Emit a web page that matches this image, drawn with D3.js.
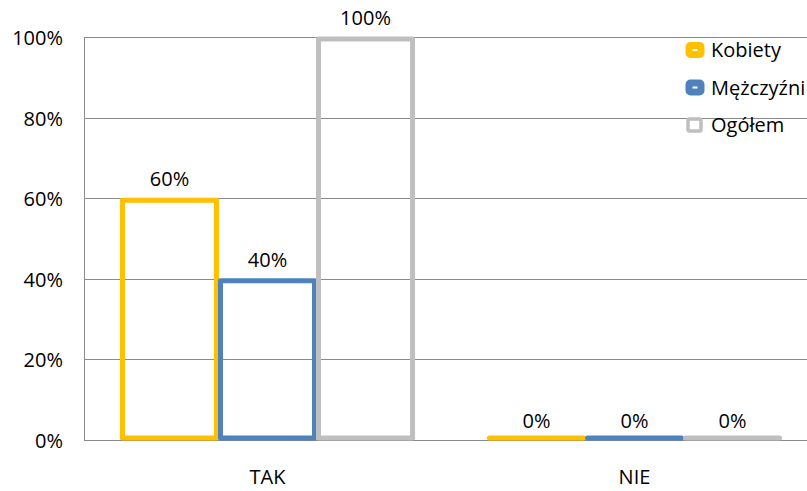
<!DOCTYPE html>
<html>
<head>
<meta charset="utf-8">
<script src="https://cdn.jsdelivr.net/npm/d3@7"></script>
<style>
  body { margin: 0; background: #fff; overflow: hidden; }
  svg text { font-family: "Open Sans", sans-serif; fill: #000; }
</style>
</head>
<body>
<div id="graph"></div>
<script>
const categories = ["TAK", "NIE"];
const seriesNames = ["Kobiety", "Mężczyźni", "Ogółem"];
const kobiety = [0.6, 0.0];
const mezczyzni = [0.4, 0.0];
const ogolem = [1.0, 0.0];
const yTicks = [0, 0.2, 0.4, 0.6, 0.8, 1.0];

const colors = ["#FFC000", "#4F81BD", "#BFBFBF"];
const seriesValues = [kobiety, mezczyzni, ogolem];

const width = 807, height = 491;
const margin = { top: 37, left: 84, bottom: 51, plotRight: 818 };

const svg = d3.select("#graph")
    .append("svg")
    .attr("width", width)
    .attr("height", height);

const x0 = d3.scaleBand()
    .domain(categories)
    .range([margin.left, margin.plotRight])
    .padding(0);

const x1 = d3.scaleBand()
    .domain(seriesNames)
    .range([0, x0.bandwidth()])
    .paddingInner(0)
    .paddingOuter(0.372);

const y = d3.scaleLinear()
    .domain([0, 1])
    .range([height - margin.bottom, margin.top]);

// gridlines
svg.append("g")
    .selectAll("line")
    .data(yTicks)
    .join("line")
    .attr("x1", margin.left)
    .attr("x2", width)
    .attr("y1", d => Math.round(y(d)) + 0.5)
    .attr("y2", d => Math.round(y(d)) + 0.5)
    .attr("stroke", "#8a8a8a")
    .attr("stroke-width", 1);

// left axis line
svg.append("line")
    .attr("x1", margin.left + 0.5)
    .attr("x2", margin.left + 0.5)
    .attr("y1", y(1))
    .attr("y2", y(0))
    .attr("stroke", "#8a8a8a");

// y tick labels
svg.append("g")
    .selectAll("text")
    .data(yTicks)
    .join("text")
    .attr("x", 63)
    .attr("y", d => y(d) + 1)
    .attr("dy", "0.35em")
    .attr("text-anchor", "end")
    .style("font-size", "20px")
    .text(d => d3.format(".0%")(d));

// category labels
svg.append("g")
    .selectAll("text")
    .data(categories)
    .join("text")
    .attr("x", d => x0(d) + x0.bandwidth() / 2)
    .attr("y", 477)
    .attr("dy", "0.35em")
    .attr("text-anchor", "middle")
    .style("font-size", "20px")
    .text(d => d);

// bars (outlined)
const barData = [];
seriesNames.forEach((s, i) => {
    categories.forEach((c, j) => {
        barData.push({ series: s, cat: c, value: seriesValues[i][j], color: colors[i] });
    });
});

const bars = svg.append("g");
bars.selectAll("path")
    .data(barData)
    .join("path")
    .attr("d", d => {
        const bx = x0(d.cat) + x1(d.series) + 2;
        const w = x1.bandwidth() - 4;
        const y0 = y(0) - 2;
        const y1 = Math.min(y(d.value) + 2, y0);
        return `M${bx},${y0}V${y1}H${bx + w}V${y0}Z`;
    })
    .attr("fill", "none")
    .attr("stroke", d => d.color)
    .attr("stroke-width", 5)
    .attr("stroke-linejoin", "round");

// data labels
svg.append("g")
    .selectAll("text")
    .data(barData)
    .join("text")
    .attr("x", d => x0(d.cat) + x1(d.series) + x1.bandwidth() / 2)
    .attr("y", d => y(d.value) - 19)
    .attr("dy", "0.35em")
    .attr("text-anchor", "middle")
    .style("font-size", "20px")
    .text(d => d3.format(".0%")(d.value));

// legend
const legend = svg.append("g")
    .selectAll("g")
    .data(seriesNames)
    .join("g")
    .attr("transform", (d, i) => `translate(686, ${50 + i * 37.5})`);

legend.append("rect")
    .attr("x", (d, i) => i < 2 ? 3 : 2)
    .attr("y", (d, i) => i < 2 ? -4.5 : -6)
    .attr("width", (d, i) => i < 2 ? 12 : 13)
    .attr("height", (d, i) => i < 2 ? 9 : 12)
    .attr("rx", 1.5)
    .attr("fill", "#fff")
    .attr("stroke", (d, i) => colors[i])
    .attr("stroke-width", (d, i) => i < 2 ? 7 : 3.5);

legend.append("text")
    .attr("x", 25)
    .attr("y", 0)
    .attr("dy", "0.35em")
    .style("font-size", "20px")
    .text(d => d);
</script>
</body>
</html>
